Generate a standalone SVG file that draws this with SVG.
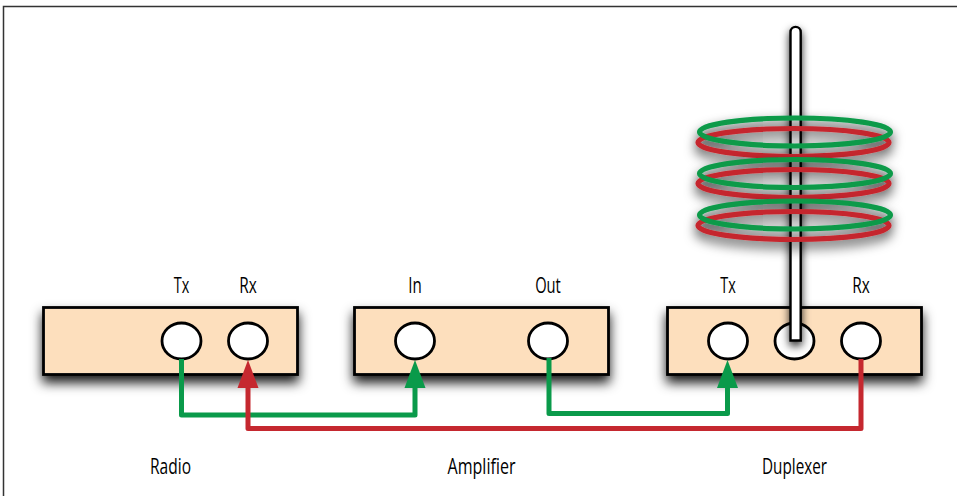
<svg xmlns="http://www.w3.org/2000/svg" width="957" height="496" viewBox="0 0 957 496">
<defs>
<filter id="sh" x="-20%" y="-40%" width="140%" height="220%"><feDropShadow dx="0" dy="7" stdDeviation="6" flood-color="#000" flood-opacity="0.9"/></filter>
<filter id="shr" x="-10%" y="-60%" width="120%" height="250%"><feDropShadow dx="0" dy="6" stdDeviation="6" flood-color="#000" flood-opacity="0.8"/></filter>
<filter id="sha" x="-300%" y="-5%" width="700%" height="110%"><feDropShadow dx="0" dy="4" stdDeviation="4.500" flood-color="#000" flood-opacity="0.85"/></filter>
<style>
.box{fill:#fddfbd;stroke:#000;stroke-width:2.800}
.port{fill:#fff;stroke:#000;stroke-width:2.800}
.wire{fill:none;stroke-width:5;stroke-linejoin:round}
.g{stroke:#0a9a4a}
.r{stroke:#c5282f}
.ring{fill:none;stroke-width:5.200}
text{font-family:"Open Sans","Liberation Sans",sans-serif;font-size:22px;fill:#000;text-anchor:middle}
</style>
</defs>
<path d="M3.500 496V6.500H957" fill="none" stroke="#333" stroke-width="1.500"/>
<g id="radio">
<rect class="box" x="43.500" y="307.500" width="254" height="67" filter="url(#sh)"/>
<ellipse class="port" cx="181.500" cy="341" rx="19.500" ry="18"/>
<ellipse class="port" cx="248" cy="341" rx="19.500" ry="18"/>
<text x="181.500" y="293" textLength="15.500" lengthAdjust="spacingAndGlyphs">Tx</text>
<text x="248" y="293" textLength="17.500" lengthAdjust="spacingAndGlyphs">Rx</text>
<text x="170.500" y="474" textLength="41" lengthAdjust="spacingAndGlyphs">Radio</text>
</g>
<g id="amplifier">
<rect class="box" x="354.500" y="307.500" width="254" height="67" filter="url(#sh)"/>
<ellipse class="port" cx="415" cy="341" rx="19.500" ry="18"/>
<ellipse class="port" cx="548" cy="341" rx="19.500" ry="18"/>
<text x="415" y="293" textLength="13.500" lengthAdjust="spacingAndGlyphs">In</text>
<text x="548" y="293" textLength="25.700" lengthAdjust="spacingAndGlyphs">Out</text>
<text x="481.500" y="474" textLength="68" lengthAdjust="spacingAndGlyphs">Amplifier</text>
</g>
<g id="duplexer">
<rect class="box" x="667.500" y="307.500" width="254" height="67" filter="url(#sh)"/>
<ellipse class="port" cx="728" cy="341" rx="19.500" ry="18"/>
<ellipse class="port" cx="794.500" cy="341" rx="19.500" ry="18"/>
<ellipse class="port" cx="861" cy="341" rx="19.500" ry="18"/>
<text x="728" y="293" textLength="15.500" lengthAdjust="spacingAndGlyphs">Tx</text>
<text x="861" y="293" textLength="17.500" lengthAdjust="spacingAndGlyphs">Rx</text>
<text x="794.500" y="474" textLength="65" lengthAdjust="spacingAndGlyphs">Duplexer</text>
</g>
<g id="antenna">
<path d="M790.500 340.500V32a5.100 5.100 0 0 1 10.200 0V340.500Z" fill="#fff" stroke="#000" stroke-width="2.400" filter="url(#sha)"/>
<g filter="url(#shr)">
<ellipse class="ring r" cx="793.500" cy="142.500" rx="95.500" ry="14"/>
<ellipse class="ring g" cx="795" cy="132" rx="95.500" ry="14"/>
</g>
<g filter="url(#shr)">
<ellipse class="ring r" cx="793.500" cy="183.500" rx="95.500" ry="14"/>
<ellipse class="ring g" cx="795" cy="173.500" rx="95.500" ry="14"/>
</g>
<g filter="url(#shr)">
<ellipse class="ring r" cx="793.500" cy="225.500" rx="95.500" ry="14"/>
<ellipse class="ring g" cx="795" cy="215" rx="95.500" ry="14"/>
</g>
</g>
<g id="connectors">
<path class="wire g" d="M181.500 359V415H415V388"/>
<path d="M404.500 388L415 360L425.500 388Z" fill="#0a9a4a"/>
<path class="wire g" d="M549 358V413.500H727.500V388"/>
<path d="M717 388L727.500 360L738 388Z" fill="#0a9a4a"/>
<path class="wire r" d="M861 359V428.500H248V388"/>
<path d="M237.500 388L248 360L258.500 388Z" fill="#c5282f"/>
</g>
</svg>
